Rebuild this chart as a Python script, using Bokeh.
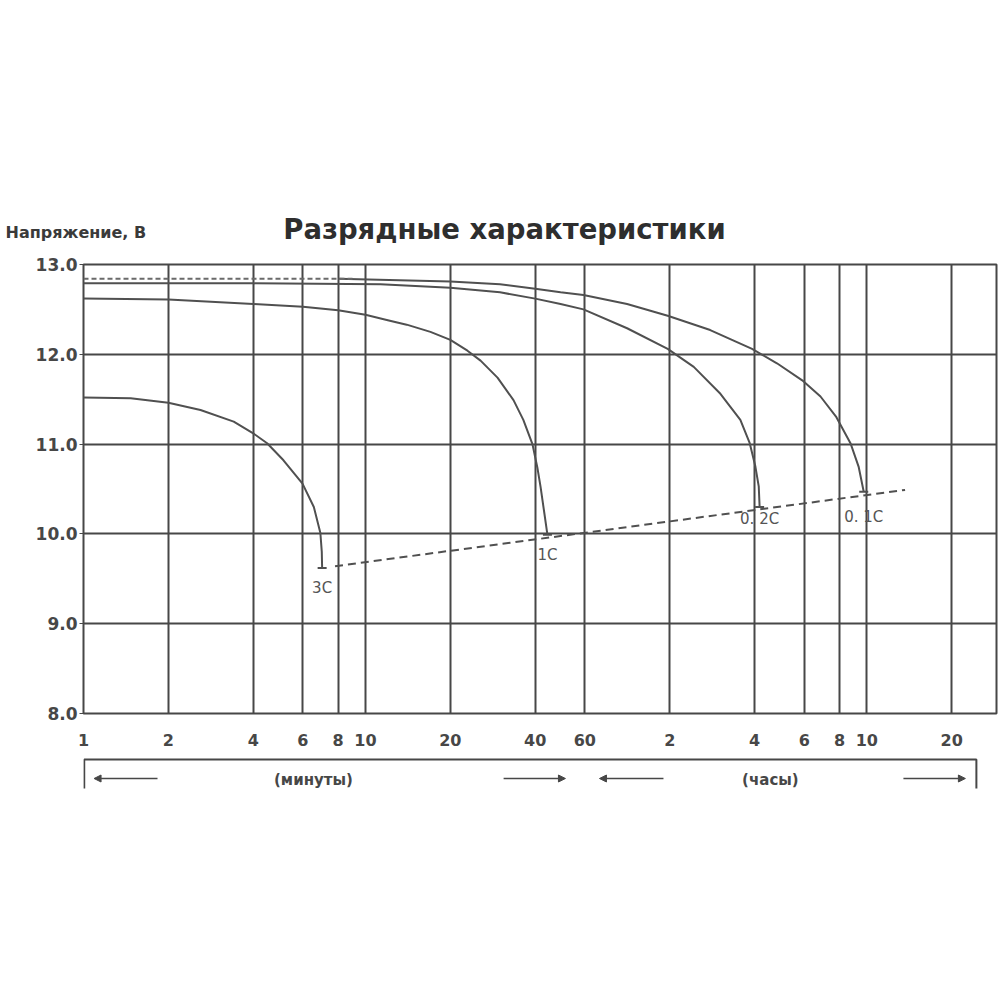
from bokeh.plotting import figure
from bokeh.models import Range1d, FixedTicker, Arrow, NormalHead, ColumnDataSource
from bokeh.layouts import column
from bokeh.embed import file_html
from bokeh.resources import INLINE
from bokeh.core.properties import value

# ---------------- data ----------------
TITLE = "Разрядные характеристики"
Y_LABEL = "Напряжение, В"
UNIT_LABELS = ["(минуты)", "(часы)"]

X_TICKS = [1, 2, 4, 6, 8, 10, 20, 40, 60, 120, 240, 360, 480, 600, 1200]          # minutes
X_TICK_LABELS = ["1", "2", "4", "6", "8", "10", "20", "40", "60", "2", "4", "6", "8", "10", "20"]
Y_TICKS = [8, 9, 10, 11, 12, 13]
Y_TICK_LABELS = ["8.0", "9.0", "10.0", "11.0", "12.0", "13.0"]

# discharge time (minutes) / voltage (V)
T_3C = [1, 1.47, 2, 2.6, 3.41, 4, 4.48, 5.12, 5.98, 6.56, 6.92, 7.0, 7.02]
V_3C = [11.52, 11.51, 11.46, 11.38, 11.25, 11.12, 11.01, 10.82, 10.56, 10.30, 10.01, 9.80, 9.62]

T_1C = [1, 2, 4, 6, 8, 10, 12, 14, 17, 20, 23, 25.6, 29.4, 33.5, 36.3, 39.1, 40.7, 41.8, 43.1, 44.2]
V_1C = [12.62, 12.61, 12.56, 12.53, 12.49, 12.44, 12.38, 12.33, 12.25, 12.16, 12.04, 11.93, 11.74, 11.49,
        11.27, 11.0, 10.74, 10.52, 10.23, 9.99]

T_02C = [1, 4, 11.3, 20, 30, 40, 49.2, 59.3, 84.7, 118, 146, 181.5, 213.6, 230.6, 241.5, 248.2, 250]
V_02C = [12.79, 12.79, 12.78, 12.74, 12.69, 12.62, 12.56, 12.50, 12.29, 12.06, 11.86, 11.56, 11.27, 11.01,
         10.75, 10.53, 10.30]

T_01C = [8, 20, 30, 40, 49.2, 59.3, 84.7, 118, 167, 235, 288, 354, 411, 468, 525, 561, 585]
V_01C = [12.84, 12.81, 12.78, 12.73, 12.69, 12.66, 12.56, 12.43, 12.27, 12.06, 11.90, 11.71, 11.53, 11.30,
         11.01, 10.75, 10.47]

TOP_T = [1, 9]
TOP_V = [12.84, 12.84]

CUTOFF_T = [7.8, 820]
CUTOFF_V = [9.64, 10.49]

CURVE_LABELS = ["3C", "1C", "0. 2C", "0. 1C"]

# ---------------- style ----------------
FONT = "DejaVu Sans"
INK = "#474747"
CURVE = "#505050"
X_MIN, X_MAX = 1, 1730
W = 998
HEAD_H = 250

# ---------------- header (title + y label) ----------------
p0 = figure(width=W, height=HEAD_H, x_range=Range1d(0, W), y_range=Range1d(HEAD_H, 0),
            output_backend="svg", toolbar_location=None, title_location=None,
            x_axis_location=None, y_axis_location=None,
            min_border_left=0, min_border_right=0, min_border_top=0, min_border_bottom=0)
p0.grid.visible = False
p0.outline_line_color = None
p0.background_fill_color = "white"
p0.border_fill_color = "white"
p0.text(x=[504], y=[228], text=[TITLE], text_align="center", text_baseline="middle",
        text_font=value(FONT), text_font_style="bold", text_font_size="27.5px", text_color="#2e2e2e")
p0.text(x=[5], y=[232], text=[Y_LABEL], text_align="left", text_baseline="middle",
        text_font=value(FONT), text_font_style="bold", text_font_size="16px", text_color="#3a3a3a")

# ---------------- main chart ----------------
p = figure(width=W, height=713 - HEAD_H + 43, x_axis_type="log",
           x_range=Range1d(X_MIN, X_MAX), y_range=Range1d(8, 13),
           output_backend="svg", toolbar_location=None, title_location=None,
           min_border_left=83, min_border_right=2, min_border_top=264 - HEAD_H, min_border_bottom=43)

p.background_fill_color = "white"
p.border_fill_color = "white"
p.outline_line_color = INK
p.outline_line_width = 2

p.xaxis.ticker = FixedTicker(ticks=X_TICKS)
p.xaxis.major_label_overrides = {t: l for t, l in zip(X_TICKS, X_TICK_LABELS)}
p.xaxis.axis_line_color = None
p.xaxis.major_tick_line_color = None
p.xaxis.minor_tick_line_color = None
p.xaxis.major_label_standoff = 14
p.xaxis.major_label_text_font = FONT
p.xaxis.major_label_text_font_style = "bold"
p.xaxis.major_label_text_font_size = "16px"
p.xaxis.major_label_text_color = INK

p.yaxis.ticker = FixedTicker(ticks=Y_TICKS)
p.yaxis.major_label_overrides = {t: l for t, l in zip(Y_TICKS, Y_TICK_LABELS)}
p.yaxis.axis_line_color = None
p.yaxis.major_tick_line_color = INK
p.yaxis.major_tick_out = 4
p.yaxis.major_tick_in = 0
p.yaxis.minor_tick_line_color = None
p.yaxis.major_label_standoff = 2
p.yaxis.major_label_text_font = FONT
p.yaxis.major_label_text_font_style = "bold"
p.yaxis.major_label_text_font_size = "17px"
p.yaxis.major_label_text_color = INK

for g in (p.xgrid, p.ygrid):
    g.grid_line_color = INK
    g.grid_line_width = 2
    g.grid_line_alpha = 1.0

for t, v in ((T_3C, V_3C), (T_1C, V_1C), (T_02C, V_02C), (T_01C, V_01C)):
    p.line(t, v, line_color=CURVE, line_width=2, line_join="round")

p.line(TOP_T, TOP_V, line_color="#6a6a6a", line_width=2, line_dash="5 3")
p.line(CUTOFF_T, CUTOFF_V, line_color=CURVE, line_width=2, line_dash="8 5")

ends_x = [T_3C[-1], T_1C[-1], T_02C[-1], T_01C[-1]]
ends_y = [V_3C[-1], V_1C[-1], V_02C[-1], V_01C[-1]]
p.scatter(ends_x, ends_y, marker="dash", size=9, line_color=CURVE, line_width=2)

lab_src = ColumnDataSource(dict(x=ends_x, y=ends_y, text=CURVE_LABELS, dy=[20, 20, 12, 25]))
p.text(x="x", y="y", text="text", y_offset="dy", source=lab_src,
       text_align="center", text_baseline="middle",
       text_font=value(FONT), text_font_size="15px", text_color="#555555")

# ---------------- bracket row (units) ----------------
p2 = figure(width=W, height=60, x_axis_type="log",
            x_range=Range1d(X_MIN, X_MAX), y_range=Range1d(0, 60),
            output_backend="svg", toolbar_location=None, title_location=None,
            x_axis_location=None, y_axis_location=None,
            min_border_left=83, min_border_right=2, min_border_top=0, min_border_bottom=0)
p2.grid.visible = False
p2.outline_line_color = None
p2.background_fill_color = "white"
p2.border_fill_color = "white"

BL, BR = 1.006, 1468
p2.line([BL, BL, BR, BR], [28, 57, 57, 28], line_color=INK, line_width=2)

for xs, xe in ((1.83, 1.09), (30.9, 51.2), (114, 67.6), (809, 1342)):
    p2.add_layout(Arrow(end=NormalHead(size=7, fill_color=INK, line_color=INK),
                        x_start=xs, y_start=38, x_end=xe, y_end=38,
                        line_color=INK, line_width=1.3))

p2.text(x=[6.54, 273], y=[37, 37], text=UNIT_LABELS, text_align="center", text_baseline="middle",
        text_font=value(FONT), text_font_style="bold", text_font_size="15px", text_color=INK)

layout = column(p0, column(p, p2, spacing=0), spacing=0)
open("out.html", "w").write(file_html(layout, INLINE))
